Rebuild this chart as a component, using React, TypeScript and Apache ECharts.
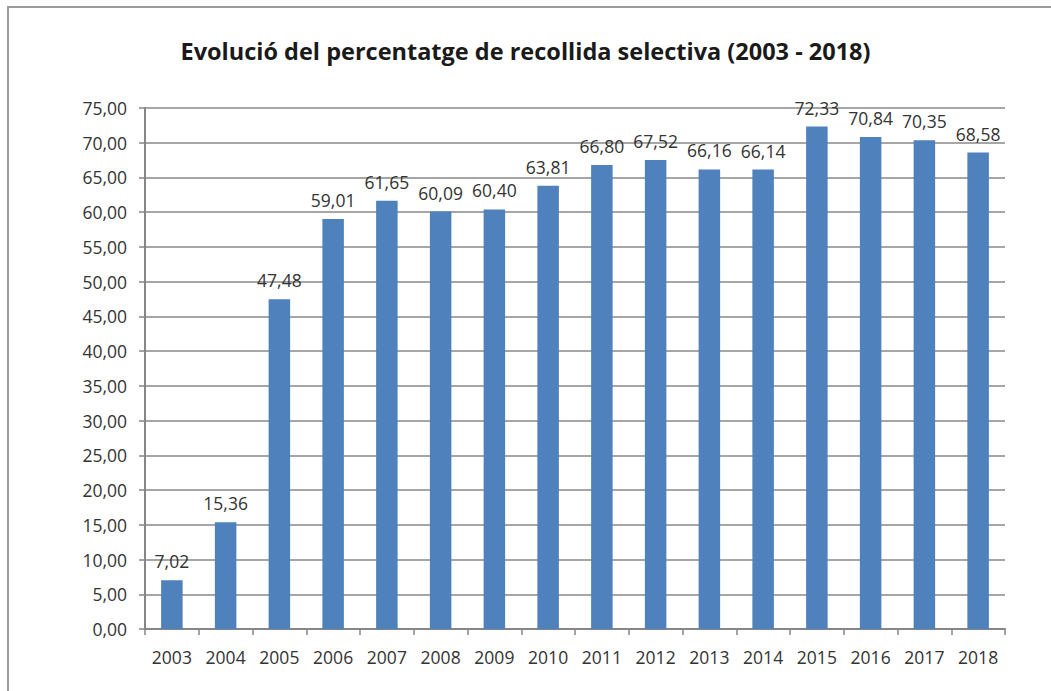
import React, { useEffect, useRef } from "react";
import * as echarts from "echarts";

const title = "Evolució del percentatge de recollida selectiva (2003 - 2018)";
const years = ["2003", "2004", "2005", "2006", "2007", "2008", "2009", "2010", "2011", "2012", "2013", "2014", "2015", "2016", "2017", "2018"];
const values = [7.02, 15.36, 47.48, 59.01, 61.65, 60.09, 60.4, 63.81, 66.8, 67.52, 66.16, 66.14, 72.33, 70.84, 70.35, 68.58];

const fmt = (v: number) => v.toFixed(2).replace(".", ",");
const FONT = "'Open Sans', 'Noto Sans', sans-serif";

export default function App() {
  const ref = useRef<HTMLDivElement>(null);
  useEffect(() => {
    if (!ref.current) return;
    const chart = echarts.init(ref.current, undefined, { renderer: "svg" });
    chart.setOption({
      animation: false,
      backgroundColor: "#ffffff",
      textStyle: { fontFamily: FONT },
      title: {
        text: title,
        left: "center",
        top: 34,
        textStyle: { fontFamily: FONT, fontSize: 23.5, fontWeight: "bold", color: "#1a1a1a" },
      },
      graphic: [
        {
          type: "rect",
          shape: { x: 8, y: 7, width: 1200, height: 900 },
          style: { fill: "none", stroke: "#9a9a9a", lineWidth: 2 },
          silent: true,
        },
      ],
      grid: { left: 145, right: 46, top: 108, bottom: 62, containLabel: false },
      xAxis: {
        type: "category",
        data: years,
        axisLine: { lineStyle: { color: "#868686", width: 2 } },
        axisTick: { show: true, alignWithLabel: false, length: 6, lineStyle: { color: "#868686", width: 1.5 } },
        axisLabel: { color: "#333333", fontSize: 17.5, margin: 19, fontFamily: FONT },
      },
      yAxis: {
        type: "value",
        min: 0,
        max: 75,
        interval: 5,
        axisLine: { show: true, lineStyle: { color: "#868686", width: 2 } },
        axisTick: { show: true, length: 6, lineStyle: { color: "#868686", width: 1.5 } },
        splitLine: { show: true, lineStyle: { color: "#a6a6a6", width: 2 } },
        axisLabel: { color: "#333333", fontSize: 17.5, margin: 18, fontFamily: FONT, formatter: (v: number) => fmt(v) },
      },
      series: [
        {
          type: "bar",
          data: values,
          barWidth: "40%",
          itemStyle: { color: "#4f81bd" },
          label: {
            show: true,
            position: "top",
            distance: 10,
            color: "#333333",
            fontSize: 17.5,
            fontFamily: FONT,
            formatter: (p: any) => fmt(p.value),
          },
        },
      ],
    });
    return () => chart.dispose();
  }, []);
  return <div ref={ref} style={{ position: "fixed", left: 0, top: 0, width: 1051, height: 691 }} />;
}
